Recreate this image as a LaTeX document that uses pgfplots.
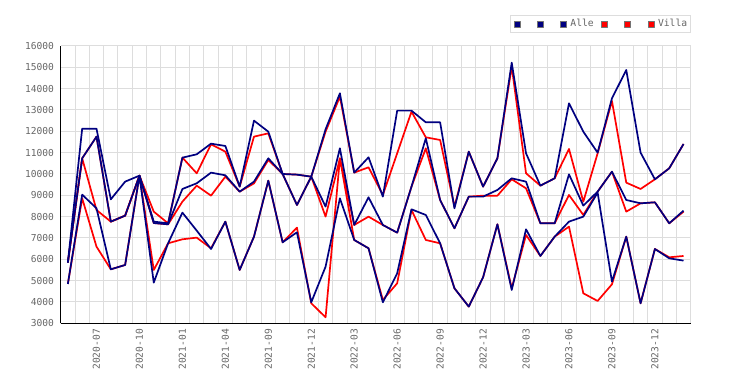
\documentclass[border=0pt]{standalone}
\usepackage{pgfplots}
\pgfplotsset{compat=1.18}
\usepackage{pgfplotstable}
\usepackage{fontspec}
\setmainfont{DejaVu Sans Mono}
\definecolor{navyc}{HTML}{000080}
\definecolor{redc}{HTML}{FF0000}
\definecolor{gridc}{HTML}{DDDDDD}
\definecolor{tickc}{HTML}{666666}
\pgfplotstableread{
i na nb nc ra rb rc
0 5844 5844 4844 5844 5844 4844
1 12125 10734 9031 10734 10734 8860
2 12125 11750 8391 8312 11750 6594
3 8812 7766 5531 7766 7766 5531
4 9641 8047 5734 8047 8047 5734
5 9922 9922 9922 9922 9922 9922
6 7766 7700 4906 8234 7700 5500
7 7688 7640 6750 7688 7640 6750
8 10766 9297 8188 10766 8703 6938
9 10922 9563 7344 10031 9453 7016
10 11422 10063 6484 11391 8984 6516
11 11313 9938 7766 11047 9875 7766
12 9406 9172 5500 9406 9172 5500
13 12500 9641 7063 11750 9560 7063
14 11984 10734 9688 11906 10656 9688
15 10000 10000 6797 10000 10000 6797
16 9969 8547 7266 9969 8547 7484
17 9875 9875 3984 9875 9875 3938
18 12094 8469 5656 11984 8000 3281
19 13781 11203 8859 13625 10734 10734
20 10063 7609 6906 10063 7609 6906
21 10781 8906 6516 10313 8000 6516
22 8938 7609 3984 9016 7609 4094
23 12969 7250 5344 10969 7250 4875
24 12969 9406 8344 12922 9406 8313
25 12422 11672 8078 11719 11203 6906
26 12422 8781 6750 11594 8781 6750
27 8391 7453 4641 8469 7453 4641
28 11047 8938 3781 11047 8938 3781
29 9406 8938 5156 9406 8984 5156
30 10734 9250 7641 10734 8984 7641
31 15219 9797 4563 15031 9750 4641
32 10969 9641 7406 10031 9328 7141
33 9453 7688 6156 9453 7688 6156
34 9797 7688 7063 9797 7688 7063
35 13313 9984 7766 11172 9016 7531
36 11984 8516 8000 8703 8078 4406
37 11000 9172 9125 10969 9172 4047
38 13547 10109 4953 13422 10109 4828
39 14875 8781 7063 9594 8234 7063
40 11000 8625 3938 9297 8625 3938
41 9750 8672 6484 9750 8672 6484
42 10266 7688 6047 10266 7688 6094
43 11406 8281 5938 11406 8234 6156
}\data
\begin{document}
\begin{tikzpicture}[x=1pt,y=1pt]
\useasboundingbox (0,0) rectangle (750,385);
\begin{axis}[
  at={(60.7pt,61.7pt)}, anchor=south west,
  scale only axis, width=630pt, height=277.3pt,
  xmin=-0.5, xmax=43.5, ymin=3000, ymax=16000,
  axis x line*=bottom, axis y line*=left,
  axis line style={-, black, line width=1.2pt},
  xtick={2,5,...,41},
  xticklabels={2020-07,2020-10,2021-01,2021-04,2021-09,2021-12,2022-03,2022-06,2022-09,2022-12,2023-03,2023-06,2023-09,2023-12},
  minor xtick={-0.5,0.5,...,43.5},
  ytick={3000,4000,...,16000},
  scaled y ticks=false,
  xmajorgrids=false, xminorgrids=true, ymajorgrids=true,
  grid style={gridc, line width=1pt},
  minor grid style={gridc, line width=1pt},
  major tick length=0pt, minor tick length=0pt,
  /pgf/number format/assume math mode=true,
  /pgf/number format/1000 sep={},
  tick label style={font=\fontsize{9.6}{11}\selectfont, text=tickc, inner sep=0pt},
  xticklabel style={rotate=90, anchor=east},
  xticklabel shift=5.7pt,
  yticklabel shift=6.5pt,
  legend style={at={(1,1)}, anchor=south east, yshift=12.7pt,
    draw=gridc, line width=1pt, fill=white,
    font=\fontsize{9.7}{11}\selectfont, text=tickc,
    inner xsep=3pt, inner ysep=4pt,
    column sep=3.4pt,
    /tikz/every even column/.append style={column sep=7.3pt},
    nodes={inner sep=0pt, text height=7.5pt, text depth=2pt}},
  legend columns=6,
  every axis plot/.append style={line width=1.7pt, line join=round},
]
\addlegendimage{legend image code/.code={\draw[fill=navyc,draw=black!55,line width=0.8pt] (0pt,-3pt) rectangle (6pt,3pt);}}
\addlegendentry{\phantom{A}}
\addlegendimage{legend image code/.code={\draw[fill=navyc,draw=black!55,line width=0.8pt] (0pt,-3pt) rectangle (6pt,3pt);}}
\addlegendentry{\phantom{A}}
\addlegendimage{legend image code/.code={\draw[fill=navyc,draw=black!55,line width=0.8pt] (0pt,-3pt) rectangle (6pt,3pt);}}
\addlegendentry{Alle}
\addlegendimage{legend image code/.code={\draw[fill=redc,draw=black!55,line width=0.8pt] (0pt,-3pt) rectangle (6pt,3pt);}}
\addlegendentry{\phantom{A}}
\addlegendimage{legend image code/.code={\draw[fill=redc,draw=black!55,line width=0.8pt] (0pt,-3pt) rectangle (6pt,3pt);}}
\addlegendentry{\phantom{A}}
\addlegendimage{legend image code/.code={\draw[fill=redc,draw=black!55,line width=0.8pt] (0pt,-3pt) rectangle (6pt,3pt);}}
\addlegendentry{Villa}
\addplot[redc, forget plot] table[x=i, y=ra]{\data};
\addplot[redc, forget plot] table[x=i, y=rb]{\data};
\addplot[redc, forget plot] table[x=i, y=rc]{\data};
\addplot[navyc, forget plot] table[x=i, y=na]{\data};
\addplot[navyc, forget plot] table[x=i, y=nb]{\data};
\addplot[navyc, forget plot] table[x=i, y=nc]{\data};
\end{axis}
\end{tikzpicture}
\end{document}
